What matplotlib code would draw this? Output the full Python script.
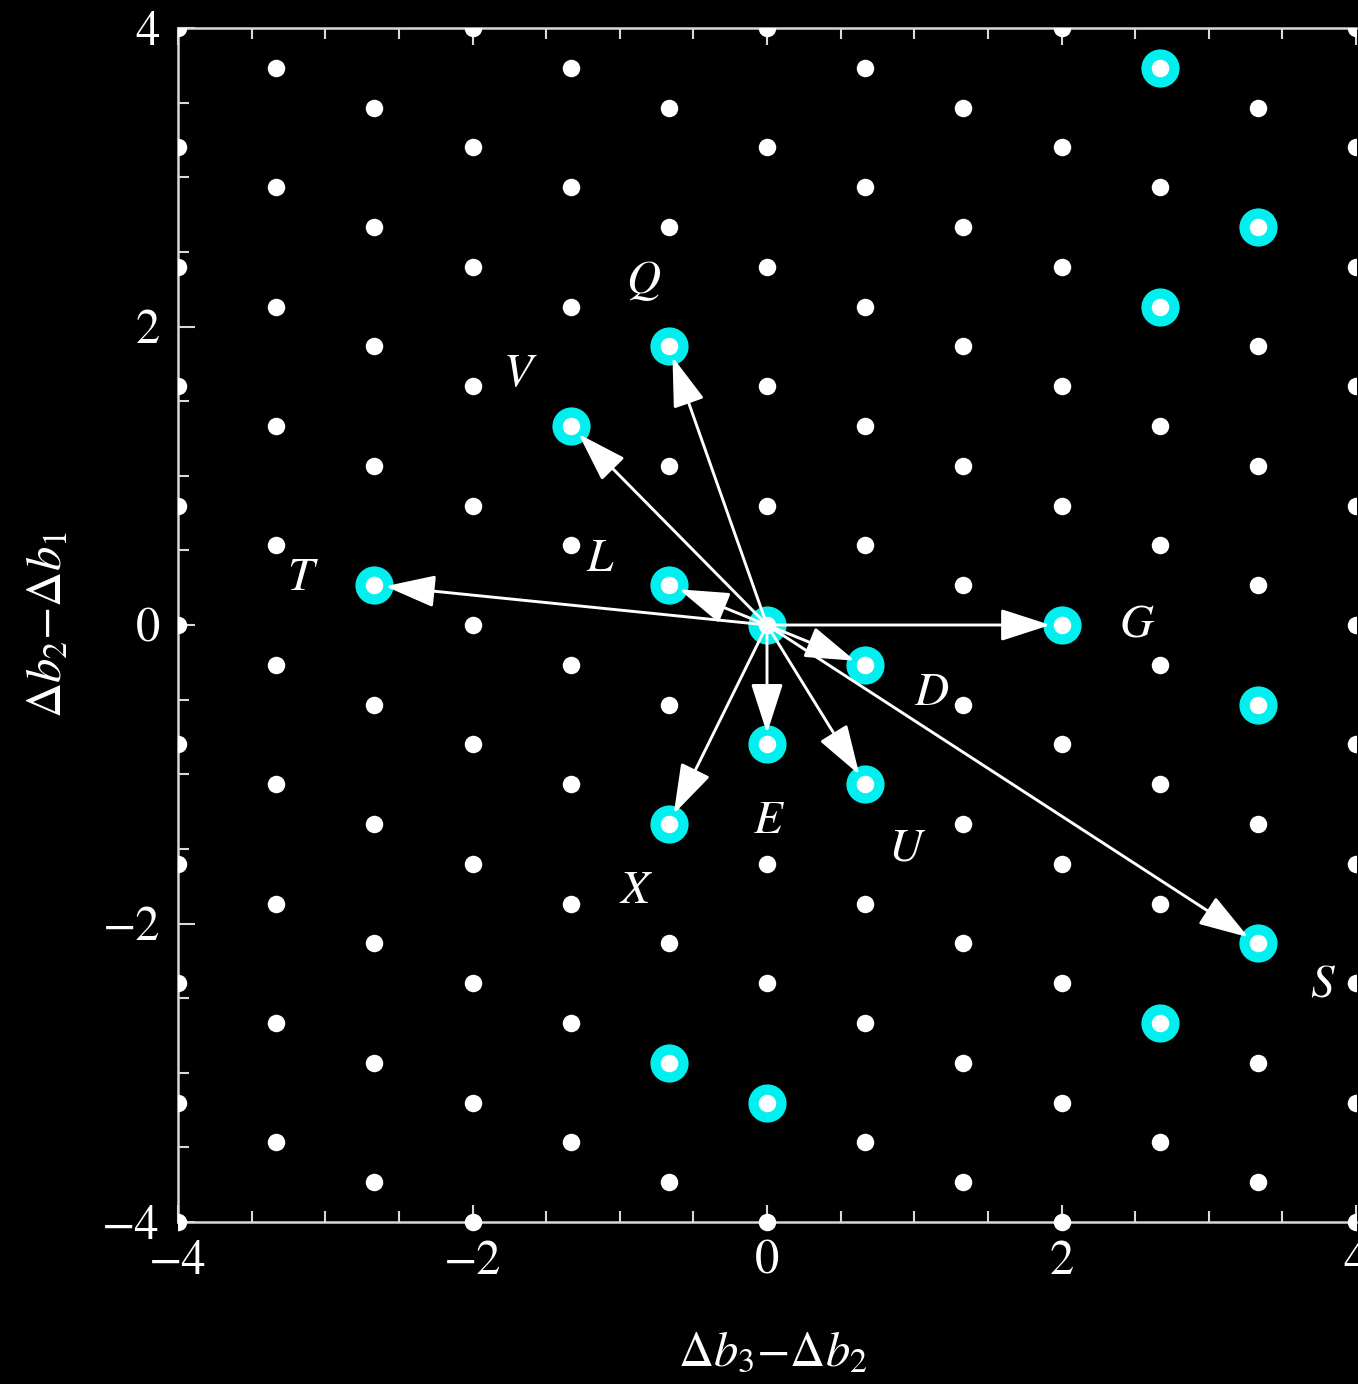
import matplotlib
matplotlib.use("Agg")
import matplotlib.pyplot as plt
from matplotlib.patches import Rectangle, FancyArrowPatch
from matplotlib.ticker import MultipleLocator

# --- lattice of allowed (Δb3−Δb2, Δb2−Δb1) points, listed column by column ---
cols_a = [-4.0, -2.0, 0.0, 2.0, 4.0]
ys_a = [4.0, 3.2, 2.4, 1.6, 0.8, 0.0, -0.8, -1.6, -2.4, -3.2, -4.0]

cols_b = [-2.667, -0.667, 1.333, 3.333]
ys_b = [3.467, 2.667, 1.867, 1.067, 0.267, -0.533, -1.333, -2.133, -2.933, -3.733]

cols_c = [-3.333, -1.333, 0.667, 2.667]
ys_c = [3.733, 2.933, 2.133, 1.333, 0.533, -0.267, -1.067, -1.867, -2.667, -3.467]

# highlighted states (cyan)
hl_x = [0.0, -0.667, -1.333, -2.667, -0.667, 2.0, 0.667, 0.0, 0.667, -0.667, 3.333,
        2.667, 3.333, 2.667, 3.333, 2.667, -0.667, 0.0]
hl_y = [0.0, 1.867, 1.333, 0.267, 0.267, 0.0, -0.267, -0.8, -1.067, -1.333, -2.133,
        3.733, 2.667, 2.133, -0.533, -2.667, -2.933, -3.2]

# transitions drawn from the origin
arrow_names = ["Q", "V", "T", "L", "G", "D", "E", "U", "X", "S"]
arrow_x = [-0.667, -1.333, -2.667, -0.667, 2.0, 0.667, 0.0, 0.667, -0.667, 3.333]
arrow_y = [1.867, 1.333, 0.267, 0.267, 0.0, -0.267, -0.8, -1.067, -1.333, -2.133]

# where each letter sits
label_pos = {
    "Q": (-0.84, 2.30), "V": (-1.69, 1.68), "T": (-3.17, 0.31), "L": (-1.14, 0.44),
    "G": (2.51, -0.01), "D": (1.12, -0.46), "E": (0.0, -1.32), "U": (0.94, -1.50),
    "X": (-0.90, -1.79), "S": (3.77, -2.42),
}

tick_vals = [-4, -2, 0, 2, 4]

plt.rcParams["font.family"] = ["STIXGeneral", "DejaVu Serif"]
plt.rcParams["mathtext.fontset"] = "stix"

W, H = 1358, 1384
fig = plt.figure(figsize=(W / 100, H / 100), dpi=100, facecolor="black")
ax = fig.add_axes([178 / W, (H - 1222) / H, (1356 - 178) / W, (1222 - 28) / H])
ax.set_facecolor("black")
ax.set_xlim(-4, 4)
ax.set_ylim(-4, 4)

clip = Rectangle((-4, -4.3), 8, 8.3, transform=ax.transData)

# cyan discs under the white lattice dots
hc = ax.scatter(hl_x, hl_y, s=27.5 ** 2, color="#00f0f0", linewidths=0, zorder=2)
hc.set_clip_path(clip)

lx, ly = [], []
for cols, ys in [(cols_a, ys_a), (cols_b, ys_b), (cols_c, ys_c)]:
    for cx in cols:
        for cy in ys:
            lx.append(cx)
            ly.append(cy)
dots = ax.scatter(lx, ly, s=12.6 ** 2, color="white", linewidths=0, zorder=3)
dots.set_clip_path(clip)

for name, tx, ty in zip(arrow_names, arrow_x, arrow_y):
    arr = FancyArrowPatch((0, 0), (tx, ty),
                          arrowstyle="-|>,head_length=1.55,head_width=0.5",
                          mutation_scale=20, color="white", lw=2.1,
                          shrinkA=0, shrinkB=8, zorder=4)
    ax.add_patch(arr)
    px, py = label_pos[name]
    ax.text(px, py, name, color="white", fontsize=34, fontstyle="italic",
            ha="center", va="center", zorder=5)

spine_col = "#d9d9d9"
for side in ["left", "bottom", "top"]:
    ax.spines[side].set_color(spine_col)
    ax.spines[side].set_linewidth(1.8)
ax.spines["right"].set_visible(False)

ax.set_xticks(tick_vals)
ax.set_yticks(tick_vals)
ax.xaxis.set_minor_locator(MultipleLocator(0.5))
ax.yaxis.set_minor_locator(MultipleLocator(0.5))
ax.tick_params(which="both", direction="in", colors=spine_col, top=True, right=False,
               labelcolor="white", labelsize=35, width=1.5)
ax.tick_params(which="major", length=12, pad=13)
ax.tick_params(which="minor", length=8)

ax.set_xlabel(r"$\Delta b_3{-}\Delta b_2$", color="white", fontsize=35)
ax.set_ylabel(r"$\Delta b_2{-}\Delta b_1$", color="white", fontsize=35)
ax.xaxis.set_label_coords(0.505, -0.092)
ax.yaxis.set_label_coords(-0.09, 0.5)

fig.savefig("out.png", dpi=100, facecolor="black")
